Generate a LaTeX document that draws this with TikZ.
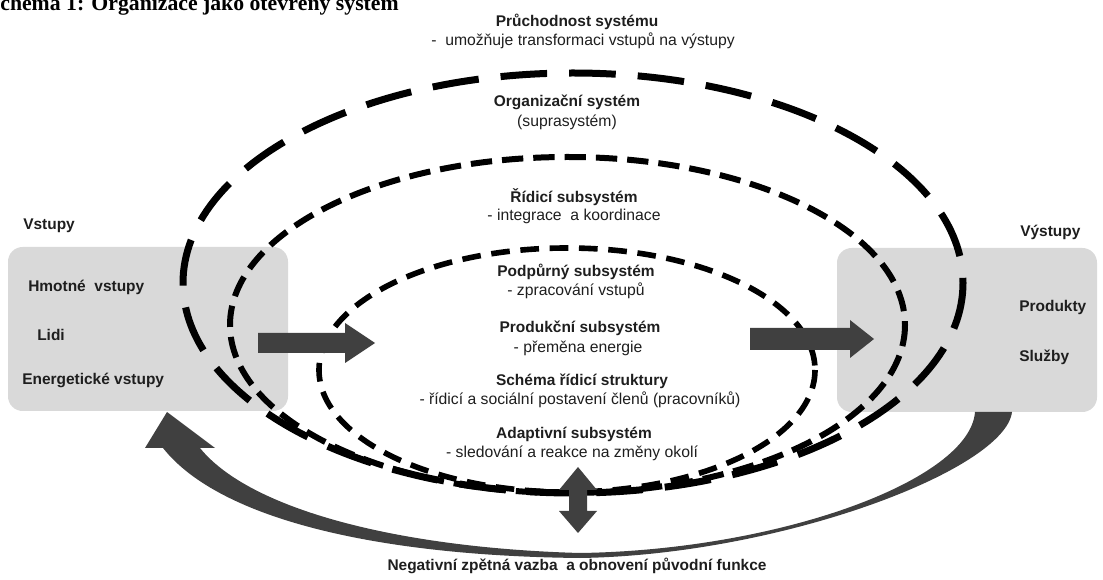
\documentclass[tikz,border=0pt]{standalone}
\usepackage{fontspec}
\setmainfont{Liberation Serif}
\setsansfont{Liberation Sans}
\definecolor{ink}{HTML}{1E1E1E}
\definecolor{panelgray}{HTML}{D9D9D9}
\definecolor{arrowgray}{HTML}{404040}
\begin{document}
\begin{tikzpicture}[x=0.75pt,y=-0.75pt,
  lbl/.style={font=\sffamily\bfseries\fontsize{11.6}{13}\selectfont, text=ink, inner sep=0pt},
  note/.style={font=\sffamily\fontsize{11.8}{13}\selectfont, text=ink, inner sep=0pt},
  panel/.style={fill=panelgray, rounded corners=11pt, inner sep=0pt, minimum height=123pt},
  orgline/.style={line width=5.25pt, dash pattern=on 35pt off 16.5pt},
  ctrlline/.style={line width=4.5pt, dash pattern=on 16pt off 7.5pt},
  suppline/.style={line width=4.2pt, dash pattern=on 14pt off 8pt},
  blockarrow/.style={fill=arrowgray, draw=none}
]
\useasboundingbox (0,0) rectangle (1103,580);
\clip (0,0) rectangle (1103,580);

% heading
\node[anchor=base west, inner sep=0pt, font=\rmfamily\bfseries\fontsize{16.3}{18}\selectfont] (title) at (-12,10.5) {Schéma 1: Organizace jako otevřený systém};

% input and output panels
\node[panel, minimum width=210pt] (inbox) at (148,329) {};
\node[panel, minimum width=195pt] (outbox) at (967,330) {};

% nested subsystems
\draw[orgline] (573,283) ellipse [x radius=390, y radius=210];
\draw[ctrlline] (567.5,325) ellipse [x radius=337.5, y radius=168];
\draw[suppline] (567,370) ellipse [x radius=248, y radius=122];

% flow of inputs and outputs
\fill[blockarrow] (258,333) -- (345,333) -- (345,323) -- (375,343) -- (345,363) -- (345,353) -- (258,353) -- cycle;
\fill[blockarrow] (750,328) -- (850,328) -- (850,320) -- (874,339) -- (850,358) -- (850,350) -- (750,350) -- cycle;

% feedback loop from outputs back to inputs
\fill[blockarrow] (1012,412) .. controls (1005,470) and (780,555) .. (580,558)
  .. controls (380,556) and (220,520) .. (163,448) -- (145,448) -- (167,412) -- (215,448) -- (200,448)
  .. controls (250,510) and (400,548) .. (580,553)
  .. controls (780,550) and (970,480) .. (975,412) -- cycle;

% exchange with the environment
\fill[blockarrow] (578,467) -- (597,490) -- (587,490) -- (587,511) -- (597,511) -- (578,533)
  -- (559,511) -- (569,511) -- (569,490) -- (559,490) -- cycle;

% texts
\node[lbl] (pruch) at (577,22) {Průchodnost systému};
\node[note] (pruchd) at (583,41) {-\ \ umožňuje transformaci vstupů na výstupy};
\node[lbl] (org) at (567,102) {Organizační systém};
\node[note] (orgd) at (567,122) {(suprasystém)};
\node[lbl] (ridi) at (574,197) {Řídicí subsystém};
\node[note] (ridid) at (574,216) {- integrace\ \ a koordinace};
\node[lbl] (podp) at (576,272) {Podpůrný subsystém};
\node[note] (podpd) at (576,291) {- zpracování vstupů};
\node[lbl] (prod) at (580,328) {Produkční subsystém};
\node[note] (prodd) at (578,348) {- přeměna energie};
\node[lbl] (sch) at (582,381) {Schéma řídicí struktury};
\node[note] (schd) at (580,400) {- řídicí a sociální postavení členů (pracovníků)};
\node[lbl] (adapt) at (574,434) {Adaptivní subsystém};
\node[note] (adaptd) at (572,453) {- sledování a reakce na změny okolí};
\node[lbl] (neg) at (577,566) {Negativní zpětná vazba\ \ a obnovení původní funkce};

\node[lbl, anchor=west] (vst) at (23,226) {Vstupy};
\node[lbl, anchor=west] (hmot) at (28,287) {Hmotné\ \ vstupy};
\node[lbl, anchor=west] (lidi) at (37,335) {Lidi};
\node[lbl, anchor=west] (ener) at (22,380) {Energetické vstupy};
\node[lbl, anchor=west] (vyst) at (1020,232) {Výstupy};
\node[lbl, anchor=west] (produkty) at (1019,308) {Produkty};
\node[lbl, anchor=west] (sluzby) at (1019,357) {Služby};
\end{tikzpicture}
\end{document}
